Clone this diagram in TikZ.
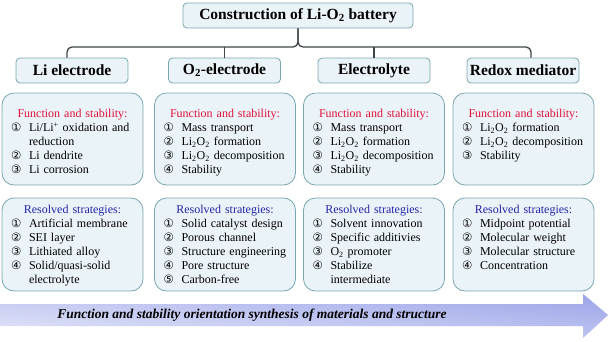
\documentclass[tikz,border=0pt]{standalone}
\usepackage{fontspec}
\setmainfont{Liberation Serif}
\newfontfamily\circfont{DejaVu Sans}
\usetikzlibrary{positioning,calc}

\definecolor{boxline}{RGB}{122,166,176}
\definecolor{boxfill}{RGB}{234,243,247}
\definecolor{linkgray}{RGB}{62,70,72}
\definecolor{funcred}{RGB}{222,18,58}
\definecolor{stratblue}{RGB}{36,36,168}
\definecolor{arrowtop}{RGB}{156,164,232}
\definecolor{arrowmid}{RGB}{230,234,251}
\definecolor{arrowbot}{RGB}{210,216,246}

\newcommand{\circn}[1]{\makebox[18pt][l]{\circfont\fontsize{11.5}{14}\selectfont #1}}
\newcommand{\itm}[2]{\par\noindent\circn{#1}\mbox{#2}}
\newcommand{\cont}[1]{\par\noindent\hspace*{18pt}#1}
\newcommand{\LiOO}{Li\textsubscript{2}O\textsubscript{2}}
\newcommand{\funchead}{{\centering\color{funcred}Function and stability:\par}}
\newcommand{\strathead}{{\centering\color{stratblue}Resolved strategies:\par}}

\begin{document}
\begin{tikzpicture}[x=1pt,y=-1pt,
    headbox/.style={draw=boxline, fill=boxfill, line width=0.8pt, rounded corners=4pt,
      minimum width=112pt, minimum height=25pt, inner sep=0pt,
      font=\bfseries\fontsize{15.5}{18}\selectfont},
    panel/.style={draw=boxline, fill=boxfill, line width=0.8pt, rounded corners=12pt,
      minimum width=141pt, inner sep=0pt},
    toppanel/.style={panel, minimum height=92pt},
    lowpanel/.style={panel, minimum height=93pt},
    paneltext/.style={text width=123pt, align=left, inner sep=0pt,
      font=\fontsize{12}{14}\selectfont},
    link/.style={draw=linkgray, line width=1.3pt, rounded corners=5pt}]
    \useasboundingbox (0,0) rectangle (609,341);

    % title and column heads
    \node[headbox, minimum width=230pt] (title) at (298,15.5) {Construction of Li-O\textsubscript{2} battery};
    \node[headbox] (liH) at (72,70.5) {Li electrode};
    \node[headbox] (o2H) at (224.5,70.5) {O\textsubscript{2}-electrode};
    \node[headbox] (elH) at (374,70.5) {Electrolyte};
    \node[headbox] (rmH) at (523,70.5) {Redox mediator};

    \coordinate (busL) at (67,47);
    \coordinate (busR) at (531,47);
    \draw[link] (title.south) |- (busL) -- (busL |- liH.north);
    \draw[link] (title.south) |- (busR) -- (busR |- rmH.north);
    \draw[link] (o2H.north) -- (o2H.north |- busL);
    \draw[link] (elH.north) -- (elH.north |- busL);

    % function and stability
    \node[toppanel] (liF) at (72.5,139) {};
    \node[toppanel] (o2F) at (225,139) {};
    \node[toppanel] (elF) at (374,139) {};
    \node[toppanel] (rmF) at (523.5,139) {};

    \node[paneltext, below=16.5pt of liF.north] (liFt) {\funchead
      \itm{①}{Li/Li\textsuperscript{+} oxidation and}
      \cont{reduction}
      \itm{②}{Li dendrite}
      \itm{③}{Li corrosion}\par};
    \node[paneltext, below=16.5pt of o2F.north] (o2Ft) {\funchead
      \itm{①}{Mass transport}
      \itm{②}{\LiOO{} formation}
      \itm{③}{\LiOO{} decomposition}
      \itm{④}{Stability}\par};
    \node[paneltext, below=16.5pt of elF.north] (elFt) {\funchead
      \itm{①}{Mass transport}
      \itm{②}{\LiOO{} formation}
      \itm{③}{\LiOO{} decomposition}
      \itm{④}{Stability}\par};
    \node[paneltext, below=16.5pt of rmF.north] (rmFt) {\funchead
      \itm{①}{\LiOO{} formation}
      \itm{②}{\LiOO{} decomposition}
      \itm{③}{Stability}\par};

    % resolved strategies
    \node[lowpanel] (liS) at (72.5,244.5) {};
    \node[lowpanel] (o2S) at (225,244.5) {};
    \node[lowpanel] (elS) at (374,244.5) {};
    \node[lowpanel] (rmS) at (523.5,244.5) {};

    \node[paneltext, below=7.5pt of liS.north] (liSt) {\strathead
      \itm{①}{Artificial membrane}
      \itm{②}{SEI layer}
      \itm{③}{Lithiated alloy}
      \itm{④}{Solid/quasi-solid}
      \cont{electrolyte}\par};
    \node[paneltext, below=7.5pt of o2S.north] (o2St) {\strathead
      \itm{①}{Solid catalyst design}
      \itm{②}{Porous channel}
      \itm{③}{Structure engineering}
      \itm{④}{Pore structure}
      \itm{⑤}{Carbon-free}\par};
    \node[paneltext, below=7.5pt of elS.north] (elSt) {\strathead
      \itm{①}{Solvent innovation}
      \itm{②}{Specific additivies}
      \itm{③}{O\textsubscript{2} promoter}
      \itm{④}{Stabilize}
      \cont{intermediate}\par};
    \node[paneltext, below=7.5pt of rmS.north] (rmSt) {\strathead
      \itm{①}{Midpoint potential}
      \itm{②}{Molecular weight}
      \itm{③}{Molecular structure}
      \itm{④}{Concentration}\par};

    % orientation arrow
    \coordinate (a1) at (0,304);
    \coordinate (a2) at (583,304);
    \coordinate (a3) at (583,294);
    \coordinate (a4) at (608,315);
    \coordinate (a5) at (583,338);
    \coordinate (a6) at (583,326);
    \coordinate (a7) at (0,326);
    \shade[top color=arrowtop, middle color=arrowmid, bottom color=arrowbot]
      (a1) -- (a2) -- (a3) -- (a4) -- (a5) -- (a6) -- (a7) -- cycle;
    \shade[left color=white, right color=arrowtop, opacity=0.4]
      (a1) -- (a2) -- (a3) -- (a4) -- (a5) -- (a6) -- (a7) -- cycle;
    \node[font=\bfseries\itshape\fontsize{13.5}{16}\selectfont] (synth) at (252,315)
      {Function and stability orientation synthesis of materials and structure};
\end{tikzpicture}
\end{document}
